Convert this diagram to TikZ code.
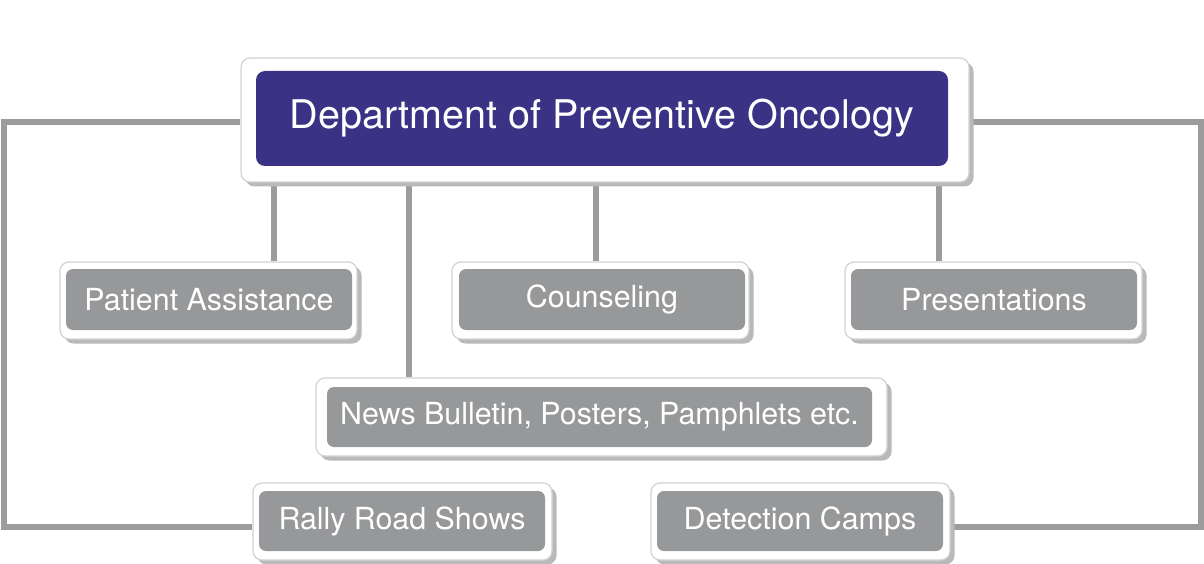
\documentclass[tikz,border=0pt]{standalone}
\usepackage{fontspec}
\setmainfont{TeX Gyre Heros}
\usetikzlibrary{backgrounds,shadows}
\definecolor{indigo}{HTML}{3A3284}
\definecolor{leafg}{HTML}{97989A}
\definecolor{conng}{HTML}{9C9C9C}
\definecolor{borderg}{HTML}{D2D2D2}
\definecolor{shadowg}{HTML}{B8B9BB}
\begin{document}
\begin{tikzpicture}[x=1pt,y=-1pt,
  outerbox/.style={rectangle, rounded corners=9pt, draw=borderg, line width=1.2pt, fill=white, inner sep=0pt,
    drop shadow={shadow xshift=4.5pt, shadow yshift=-4.5pt, opacity=1, fill=shadowg}},
  topbox/.style={rectangle, rounded corners=9pt, fill=indigo, text=white, inner sep=0pt,
    font=\fontsize{39.5}{45}\selectfont},
  leafbox/.style={rectangle, rounded corners=7pt, fill=leafg, text=white, inner sep=0pt,
    font=\fontsize{30.4}{36}\selectfont},
  conn/.style={draw=conng, line width=6pt, line join=miter}]
\useasboundingbox (0,0) rectangle (1204,564);

\node[outerbox, minimum width=728pt, minimum height=124pt] (topO) at (605,120) {};
\node[topbox, minimum width=692pt, minimum height=95pt] (top) at (602,118.5) {Department of Preventive Oncology};

\node[outerbox, minimum width=297pt, minimum height=77pt] (paO) at (208.5,300.5) {};
\node[leafbox, minimum width=286pt, minimum height=61pt] (pa) at (209,299.5) {Patient Assistance};

\node[outerbox, minimum width=297pt, minimum height=77pt] (coO) at (600.5,300.5) {};
\node[leafbox, minimum width=286pt, minimum height=61pt] (co) at (602,299.5) {Counseling};

\node[outerbox, minimum width=297pt, minimum height=77pt] (prO) at (993.5,300.5) {};
\node[leafbox, minimum width=286pt, minimum height=61pt] (pr) at (994,299.5) {Presentations};

\node[outerbox, minimum width=571pt, minimum height=78pt] (nwO) at (601.5,417) {};
\node[leafbox, minimum width=545pt, minimum height=60pt] (nw) at (599.5,417) {News Bulletin, Posters, Pamphlets etc.};

\node[outerbox, minimum width=299pt, minimum height=77pt] (raO) at (402.5,521.5) {};
\node[leafbox, minimum width=286pt, minimum height=60pt] (ra) at (402,521) {Rally Road Shows};

\node[outerbox, minimum width=299pt, minimum height=77pt] (deO) at (800.5,521.5) {};
\node[leafbox, minimum width=286pt, minimum height=60pt] (de) at (800,521) {Detection Camps};

\begin{pgfonlayer}{background}
\draw[conn] ([xshift=65.5pt]paO.north) -- ([xshift=65.5pt]paO.north |- topO.south);
\draw[conn] ([xshift=-192.5pt]nwO.north) -- ([xshift=-192.5pt]nwO.north |- topO.south);
\draw[conn] ([xshift=-4.5pt]coO.north) -- ([xshift=-4.5pt]coO.north |- topO.south);
\draw[conn] ([xshift=-54.5pt]prO.north) -- ([xshift=-54.5pt]prO.north |- topO.south);
\draw[conn] ([yshift=-2pt]topO.west) -- ++(-236,0) |- ([yshift=-5.5pt]raO.west);
\draw[conn] ([yshift=-2pt]topO.east) -- ++(231,0) |- ([yshift=-5.5pt]deO.east);
\end{pgfonlayer}
\end{tikzpicture}
\end{document}
